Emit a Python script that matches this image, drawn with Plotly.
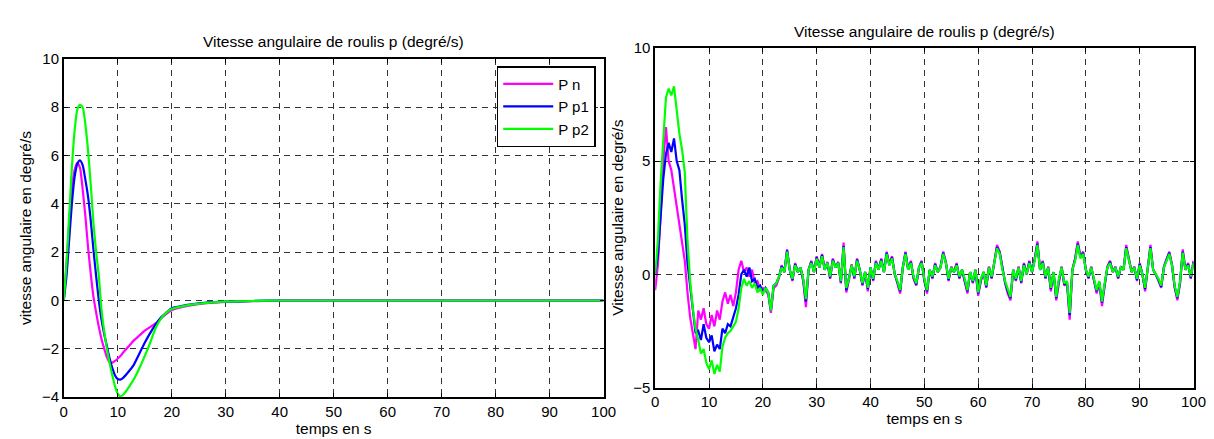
import plotly.graph_objects as go

# ---------------- Left chart data (smooth responses) ----------------
t_left = [0, 0.5, 1, 1.5, 2, 2.5, 3, 3.5, 4, 4.5, 5, 5.5, 6, 6.5, 7, 7.5, 8, 8.5, 9, 9.5,
          10, 10.5, 11, 12, 13, 14, 15, 16, 17, 18, 19, 20, 22, 24, 26, 28, 30, 35, 40, 100]

pn_left = [0, 1.5, 3.2, 4.6, 5.4, 5.7, 5.5, 4.6, 3.5, 2.2, 1.1, 0.15, -0.5, -1.1, -1.6, -2.0,
           -2.35, -2.55, -2.57, -2.5, -2.4, -2.3, -2.15, -1.9, -1.65, -1.45, -1.25, -1.1, -0.95,
           -0.75, -0.55, -0.4, -0.27, -0.18, -0.12, -0.08, -0.06, -0.03, 0, 0]

pp1_left = [0, 1.0, 2.5, 4.0, 5.1, 5.65, 5.8, 5.6, 5.0, 4.3, 3.3, 2.1, 1.0, 0.0, -0.8, -1.4,
            -1.9, -2.4, -2.8, -3.1, -3.25, -3.27, -3.2, -2.95, -2.65, -2.2, -1.75, -1.35, -1.0,
            -0.7, -0.5, -0.32, -0.22, -0.15, -0.1, -0.07, -0.05, -0.02, 0, 0]

pp2_left = [0, 1.5, 3.5, 5.5, 7.0, 7.9, 8.1, 8.0, 7.3, 6.2, 4.8, 3.2, 2.0, 1.0, -0.4, -1.3,
            -2.0, -2.6, -3.1, -3.55, -3.85, -3.96, -3.9, -3.6, -3.25, -2.8, -2.3, -1.75, -1.15,
            -0.75, -0.5, -0.35, -0.24, -0.16, -0.11, -0.07, -0.05, -0.02, 0, 0]

# ---------------- Right chart data (noisy responses, 0.5 s steps) ----------------
t_right = [i * 0.5 for i in range(201)]

pp2_right = [
    0.0, 1.5, 4.0, 5.8, 7.8, 8.2, 7.9, 8.3, 7.2, 6.2,
    5.5, 4.5, 1.5, -0.3, -1.5, -2.4, -2.9, -3.5, -3.3, -3.9,
    -4.2, -3.8, -4.4, -4.0, -4.3, -3.2, -2.8, -2.6, -2.5, -2.3,
    -2.1, -1.5, -0.6, -0.2, -0.5, -0.3, -0.6, -0.4, -0.8, -0.6,
    -0.9, -0.6, -0.8, -1.6, -0.5, -0.4, -0.1, 0.3, 0.1, 1.0,
    0.2, -0.2, 0.4, 0.1, 0.3, -0.2, -1.1, 0.2, 0.5, 0.1,
    0.7, 0.3, 0.8, 0.2, 0.5, -0.1, 0.6, 0.3, 0.5, -0.3,
    1.2, -0.6, -0.2, 0.4, -0.1, 0.6, 0.2, -0.4, 0.1, -0.6,
    0.3, -0.2, 0.5, 0.2, 0.6, 0.1, 0.9, 0.4, 0.7, 0.0,
    -0.3, -0.7, 0.3, 0.9, 0.2, 0.5, -0.1, -0.4, 0.3, 0.5,
    -0.2, -0.7, 0.2, -0.1, 0.4, 0.1, 0.3, 0.9, 0.5, -0.2,
    0.3, 0.1, 0.4, -0.1, 0.2, -0.2, -0.7, 0.1, -0.3, 0.2,
    -0.8, -0.2, 0.1, -0.5, 0.3, -0.1, 0.5, 1.15, 0.9, 0.2,
    -0.3, -0.7, -1.0, 0.2, -0.2, 0.3, -0.3, 0.4, 0.0, 0.5,
    0.1, 0.6, 1.3, 0.2, 0.5, -0.1, 0.3, -0.6, 0.1, -1.0,
    -0.2, 0.3, -0.4, -0.3, -1.7, 0.2, 0.6, 1.3, 0.7, 0.9,
    0.2, -0.1, 0.3, -0.2, -0.7, -0.3, -1.2, -0.4, 0.3, 0.5,
    0.1, 0.3, -0.1, 0.3, 0.2, 1.15, 0.6, 0.1, 0.3, -0.2,
    0.4, 0.0, -0.6, 0.3, 1.15, 0.2, 0.0, -0.2, -0.5, 0.3,
    0.6, 0.9, 0.4, -0.5, -1.0, -0.3, 0.95, 0.2, 0.4, -0.1,
    0.5]

pp1_right = [
    0.0, 0.8, 2.5, 4.2, 5.3, 5.8, 5.4, 6.0, 5.0, 4.6,
    3.3, 2.2, 0.5, -0.6, -1.8, -2.6, -2.5, -2.9, -2.2, -2.8,
    -3.0, -2.7, -3.4, -3.1, -3.3, -2.4, -2.6, -2.2, -2.3, -1.9,
    -1.5, -0.9, 0.0, 0.2, -0.1, 0.3, -0.3, -0.2, -0.6, -0.5,
    -0.8, -0.6, -0.8, -1.6, -0.5, -0.4, -0.1, 0.35, 0.1, 1.05,
    0.2, -0.25, 0.45, 0.1, 0.3, -0.25, -1.2, 0.2, 0.55, 0.1,
    0.75, 0.3, 0.85, 0.2, 0.5, -0.15, 0.65, 0.3, 0.5, -0.35,
    1.25, -0.7, -0.2, 0.4, -0.15, 0.65, 0.2, -0.45, 0.1, -0.65,
    0.3, -0.25, 0.55, 0.2, 0.65, 0.1, 0.95, 0.4, 0.75, 0.0,
    -0.35, -0.75, 0.3, 0.95, 0.2, 0.55, -0.15, -0.45, 0.3, 0.55,
    -0.25, -0.75, 0.2, -0.15, 0.45, 0.1, 0.3, 0.95, 0.5, -0.25,
    0.3, 0.1, 0.45, -0.15, 0.2, -0.25, -0.75, 0.1, -0.35, 0.2,
    -0.85, -0.25, 0.1, -0.55, 0.3, -0.15, 0.55, 1.2, 0.95, 0.2,
    -0.35, -0.75, -1.05, 0.2, -0.25, 0.3, -0.35, 0.45, 0.0, 0.55,
    0.1, 0.65, 1.35, 0.2, 0.55, -0.15, 0.3, -0.65, 0.1, -1.05,
    -0.25, 0.3, -0.45, -0.35, -1.8, 0.2, 0.65, 1.35, 0.75, 0.95,
    0.2, -0.15, 0.3, -0.25, -0.75, -0.35, -1.25, -0.45, 0.3, 0.55,
    0.1, 0.3, -0.15, 0.3, 0.2, 1.2, 0.65, 0.1, 0.3, -0.25,
    0.45, 0.0, -0.65, 0.3, 1.2, 0.2, 0.0, -0.25, -0.55, 0.3,
    0.65, 0.95, 0.4, -0.55, -1.05, -0.35, 1.0, 0.2, 0.45, -0.15,
    0.55]

pn_right = [
    -0.7, 0.4, 2.6, 5.0, 6.5, 5.0, 4.6, 3.8, 3.0, 2.4,
    1.6, 0.6, -0.8, -1.9, -2.6, -3.3, -1.6, -2.0, -1.5, -2.2,
    -2.4, -1.8, -2.3, -1.6, -2.0, -1.2, -0.8, -1.3, -0.9, -1.4,
    -0.8, 0.2, 0.6, 0.1, 0.3, -0.1, 0.2, -0.4, -0.3, -0.7,
    -0.6, -0.7, -0.9, -1.7, -0.6, -0.5, -0.15, 0.4, 0.1, 1.1,
    0.2, -0.3, 0.5, 0.1, 0.3, -0.3, -1.45, 0.2, 0.6, 0.1,
    0.8, 0.3, 0.9, 0.2, 0.55, -0.2, 0.7, 0.3, 0.55, -0.4,
    1.4, -0.8, -0.25, 0.45, -0.2, 0.7, 0.2, -0.5, 0.1, -0.75,
    0.3, -0.3, 0.6, 0.2, 0.7, 0.1, 1.0, 0.45, 0.8, 0.0,
    -0.4, -0.85, 0.3, 1.0, 0.2, 0.6, -0.2, -0.5, 0.3, 0.6,
    -0.3, -0.85, 0.2, -0.2, 0.5, 0.1, 0.35, 1.0, 0.55, -0.3,
    0.35, 0.1, 0.5, -0.2, 0.2, -0.3, -0.85, 0.1, -0.4, 0.2,
    -0.95, -0.3, 0.1, -0.6, 0.35, -0.2, 0.6, 1.3, 1.0, 0.2,
    -0.4, -0.85, -1.15, 0.2, -0.3, 0.35, -0.4, 0.5, 0.0, 0.6,
    0.1, 0.7, 1.45, 0.2, 0.6, -0.2, 0.35, -0.75, 0.1, -1.15,
    -0.3, 0.35, -0.5, -0.4, -2.0, 0.2, 0.7, 1.45, 0.8, 1.0,
    0.2, -0.2, 0.35, -0.3, -0.85, -0.4, -1.4, -0.5, 0.35, 0.6,
    0.1, 0.35, -0.2, 0.35, 0.2, 1.3, 0.7, 0.1, 0.35, -0.3,
    0.5, 0.0, -0.75, 0.35, 1.3, 0.2, 0.0, -0.3, -0.6, 0.35,
    0.7, 1.0, 0.45, -0.6, -1.15, -0.4, 1.1, 0.2, 0.5, -0.2,
    0.6]

series_names = ["P n", "P p1", "P p2"]
colors = ["#FF00FF", "#0000FF", "#00FF00"]

left_x_ticks = [0, 10, 20, 30, 40, 50, 60, 70, 80, 90, 100]
left_y_ticks = [-4, -2, 0, 2, 4, 6, 8, 10]
right_y_ticks = [-5, 0, 5, 10]

title_text = "Vitesse angulaire de roulis p (degré/s)"
x_label = "temps en s"
y_label_left = "vitesse angulaire en degré/s"
y_label_right = "Vitesse angulaire en degré/s"

FONT = "Liberation Sans, Arial, sans-serif"

fig = go.Figure()

left_vals = [pn_left, pp1_left, pp2_left]
right_vals = [pn_right, pp1_right, pp2_right]

for name, col, vals in zip(series_names, colors, left_vals):
    fig.add_trace(go.Scatter(x=t_left, y=vals, name=name, mode="lines",
                             line=dict(color=col, width=2.2, shape="spline", smoothing=0.6),
                             xaxis="x", yaxis="y", showlegend=True))

for name, col, vals in zip(series_names, colors, right_vals):
    fig.add_trace(go.Scatter(x=t_right, y=vals, name=name, mode="lines",
                             line=dict(color=col, width=2.2),
                             xaxis="x2", yaxis="y2", showlegend=False))

W, H = 1214, 439

def axis_common():
    return dict(
        showline=True, linecolor="black", linewidth=1.5, mirror="ticks",
        ticks="inside", ticklen=4, tickcolor="black", tickwidth=1,
        showgrid=True, gridcolor="#333333", gridwidth=1, griddash="6px,5px",
        zeroline=False, tickfont=dict(family=FONT, size=15, color="black"),
    )

fig.update_layout(
    width=W, height=H,
    margin=dict(l=0, r=0, t=0, b=0),
    paper_bgcolor="white", plot_bgcolor="white",
    font=dict(family=FONT, size=15, color="black"),
    xaxis=dict(domain=[52.5 / W, 600 / W], range=[0, 100], tickvals=left_x_ticks,
               anchor="y", title=dict(text=x_label, font=dict(size=15.5), standoff=4),
               **axis_common()),
    yaxis=dict(domain=[(H - 395.5) / H, (H - 43.5) / H], range=[-4, 10], tickvals=left_y_ticks,
               anchor="x", title=dict(text=y_label_left, font=dict(size=15.5), standoff=6),
               **axis_common()),
    xaxis2=dict(domain=[652.3 / W, 1198.3 / W], range=[0, 100], tickvals=left_x_ticks,
                anchor="y2", title=dict(text=x_label, font=dict(size=15.5), standoff=4),
                **axis_common()),
    yaxis2=dict(domain=[(H - 385.5) / H, (H - 32) / H], range=[-5, 10], tickvals=right_y_ticks,
                anchor="x2", title=dict(text=y_label_right, font=dict(size=15.5), standoff=6),
                **axis_common()),
    legend=dict(x=592 / W, xanchor="right", y=(H - 51) / H, yanchor="top",
                bgcolor="white", bordercolor="black", borderwidth=1.5,
                font=dict(family=FONT, size=15, color="black"), itemwidth=50,
                tracegroupgap=0),
    annotations=[
        dict(text=title_text, x=(52.5 + 600) / 2 / W, y=(H - 25) / H, xref="paper", yref="paper",
             xanchor="center", yanchor="middle", showarrow=False,
             font=dict(family=FONT, size=15.5, color="black")),
        dict(text=title_text, x=(652.3 + 1198.3) / 2 / W, y=(H - 15) / H, xref="paper", yref="paper",
             xanchor="center", yanchor="middle", showarrow=False,
             font=dict(family=FONT, size=15.5, color="black")),
    ],
)

fig.write_html("out.html")
